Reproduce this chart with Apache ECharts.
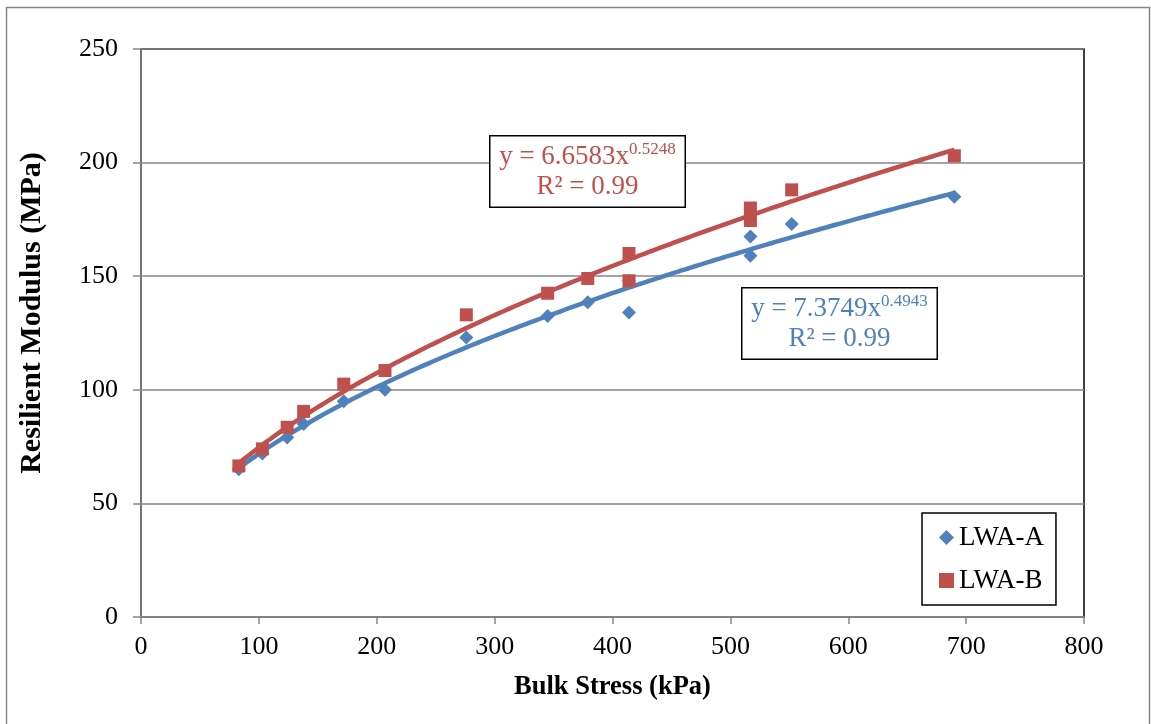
<!DOCTYPE html>
<html>
<head>
<meta charset="utf-8">
<script src="https://cdn.jsdelivr.net/npm/echarts@6/dist/echarts.min.js"></script>
<style>
html,body{margin:0;padding:0;background:#fff;}
#chart{width:1151px;height:724px;}
</style>
</head>
<body>
<div id="chart"></div>
<script>
// ---- data ----
const xTicks = [0, 100, 200, 300, 400, 500, 600, 700, 800];
const yTicks = [0, 50, 100, 150, 200, 250];

const bulkA = [83, 103, 124, 138, 172, 207, 276, 345, 379, 414, 414, 517, 517, 552, 690];
const modA  = [65, 72, 79, 85, 95, 100, 123, 132.5, 138.5, 134, 148, 167.5, 159, 173, 185];

const bulkB = [83, 103, 124, 138, 172, 207, 276, 345, 379, 414, 414, 517, 517, 552, 690];
const modB  = [66.5, 74, 83.5, 90.5, 102.5, 108.5, 133, 142.5, 149, 160, 148, 180, 174.5, 188, 203];

// power trendlines as printed on the chart: y = a * x^b
const trendA = { a: 7.3749, b: 0.4943, r2: '0.99' };
const trendB = { a: 6.6583, b: 0.5248, r2: '0.99' };
const trendRange = [83, 690];

const BLUE = '#4F81BD', RED = '#C0504D', GRID = '#868686';
const FONT = "'Liberation Serif','Times New Roman',serif";

function pairs(xs, ys) { return xs.map((x, i) => [x, ys[i]]); }
function trendLine(t) {
  const pts = [];
  for (let x = trendRange[0]; x <= trendRange[1]; x += 3) pts.push([x, t.a * Math.pow(x, t.b)]);
  pts.push([trendRange[1], t.a * Math.pow(trendRange[1], t.b)]);
  return pts;
}
function eqBox(t, color, left, top) {
  return { type: 'text', left: left, top: top, z: 100,
    style: {
      text: '{a|y = ' + t.a.toFixed(4) + 'x}{s|' + t.b.toFixed(4) + '}\n{a|R² = ' + t.r2 + '}',
      width: 178, align: 'center',
      backgroundColor: '#fff', borderColor: '#000', borderWidth: 1.5, padding: [5, 8, 5, 8],
      rich: {
        a: { fontFamily: FONT, fontSize: 27, fill: color, color: color, lineHeight: 30, align: 'center' },
        s: { fontFamily: FONT, fontSize: 17, fill: color, color: color, lineHeight: 30, verticalAlign: 'top', padding: [0, 0, 9, 0] }
      }
    }
  };
}

const chart = echarts.init(document.getElementById('chart'));
chart.setOption({
  animation: false,
  backgroundColor: '#fff',
  grid: { left: 141, right: 67, top: 49, bottom: 107, show: true, borderColor: '#000', borderWidth: 1.5, backgroundColor: 'transparent' },
  xAxis: {
    type: 'value', min: xTicks[0], max: xTicks[xTicks.length - 1], interval: 100,
    name: 'Bulk Stress (kPa)', nameLocation: 'middle', nameGap: 57,
    nameTextStyle: { fontFamily: FONT, fontSize: 26.5, fontWeight: 'bold', color: '#000' },
    axisLine: { show: true, lineStyle: { color: GRID, width: 1.5 } },
    axisTick: { show: true, inside: false, length: 7, lineStyle: { color: GRID, width: 1.5 } },
    axisLabel: { fontFamily: FONT, fontSize: 26, color: '#000', margin: 17 },
    splitLine: { show: false }
  },
  yAxis: {
    type: 'value', min: yTicks[0], max: yTicks[yTicks.length - 1], interval: 50,
    axisLine: { show: true, lineStyle: { color: GRID, width: 1.5 } },
    axisTick: { show: true, inside: false, length: 8, lineStyle: { color: GRID, width: 1.5 } },
    axisLabel: { fontFamily: FONT, fontSize: 26, color: '#000', margin: 23 },
    splitLine: { show: true, lineStyle: { color: GRID, width: 1.5 } }
  },
  legend: {
    data: [{ name: 'LWA-A', icon: 'diamond' }, { name: 'LWA-B', icon: 'rect' }],
    orient: 'vertical', left: 922, top: 513,
    backgroundColor: '#fff', borderColor: '#000', borderWidth: 1.5,
    padding: [11, 12, 11, 17], itemGap: 16, itemWidth: 15, itemHeight: 15,
    textStyle: { fontFamily: FONT, fontSize: 27, color: '#000', padding: [0, 0, 0, 0] }
  },
  series: [
    { name: 'trendA', type: 'line', data: trendLine(trendA), showSymbol: false, symbol: 'none', smooth: false,
      lineStyle: { color: BLUE, width: 4.5 }, z: 2, silent: true },
    { name: 'trendB', type: 'line', data: trendLine(trendB), showSymbol: false, symbol: 'none', smooth: false,
      lineStyle: { color: RED, width: 4.5 }, z: 2, silent: true },
    { name: 'LWA-A', type: 'scatter', data: pairs(bulkA, modA), symbol: 'diamond', symbolSize: 14,
      itemStyle: { color: BLUE, opacity: 1 }, z: 3 },
    { name: 'LWA-B', type: 'scatter', data: pairs(bulkB, modB), symbol: 'rect', symbolSize: 13,
      itemStyle: { color: RED, opacity: 1 }, z: 4 }
  ],
  graphic: [
    { type: 'rect', left: 4, top: 5, shape: { width: 1143, height: 740 }, style: { fill: 'none', stroke: GRID, lineWidth: 1.5 }, silent: true, z: -10 },
    { type: 'text', x: 32, y: 313, rotation: Math.PI / 2, z: 50,
      style: { text: 'Resilient Modulus (MPa)', fontFamily: FONT, fontSize: 30, fontWeight: 'bold', fill: '#000', align: 'center', verticalAlign: 'middle' } },
    eqBox(trendB, RED, 489, 135),
    eqBox(trendA, BLUE, 741, 287)
  ]
});
</script>
</body>
</html>
